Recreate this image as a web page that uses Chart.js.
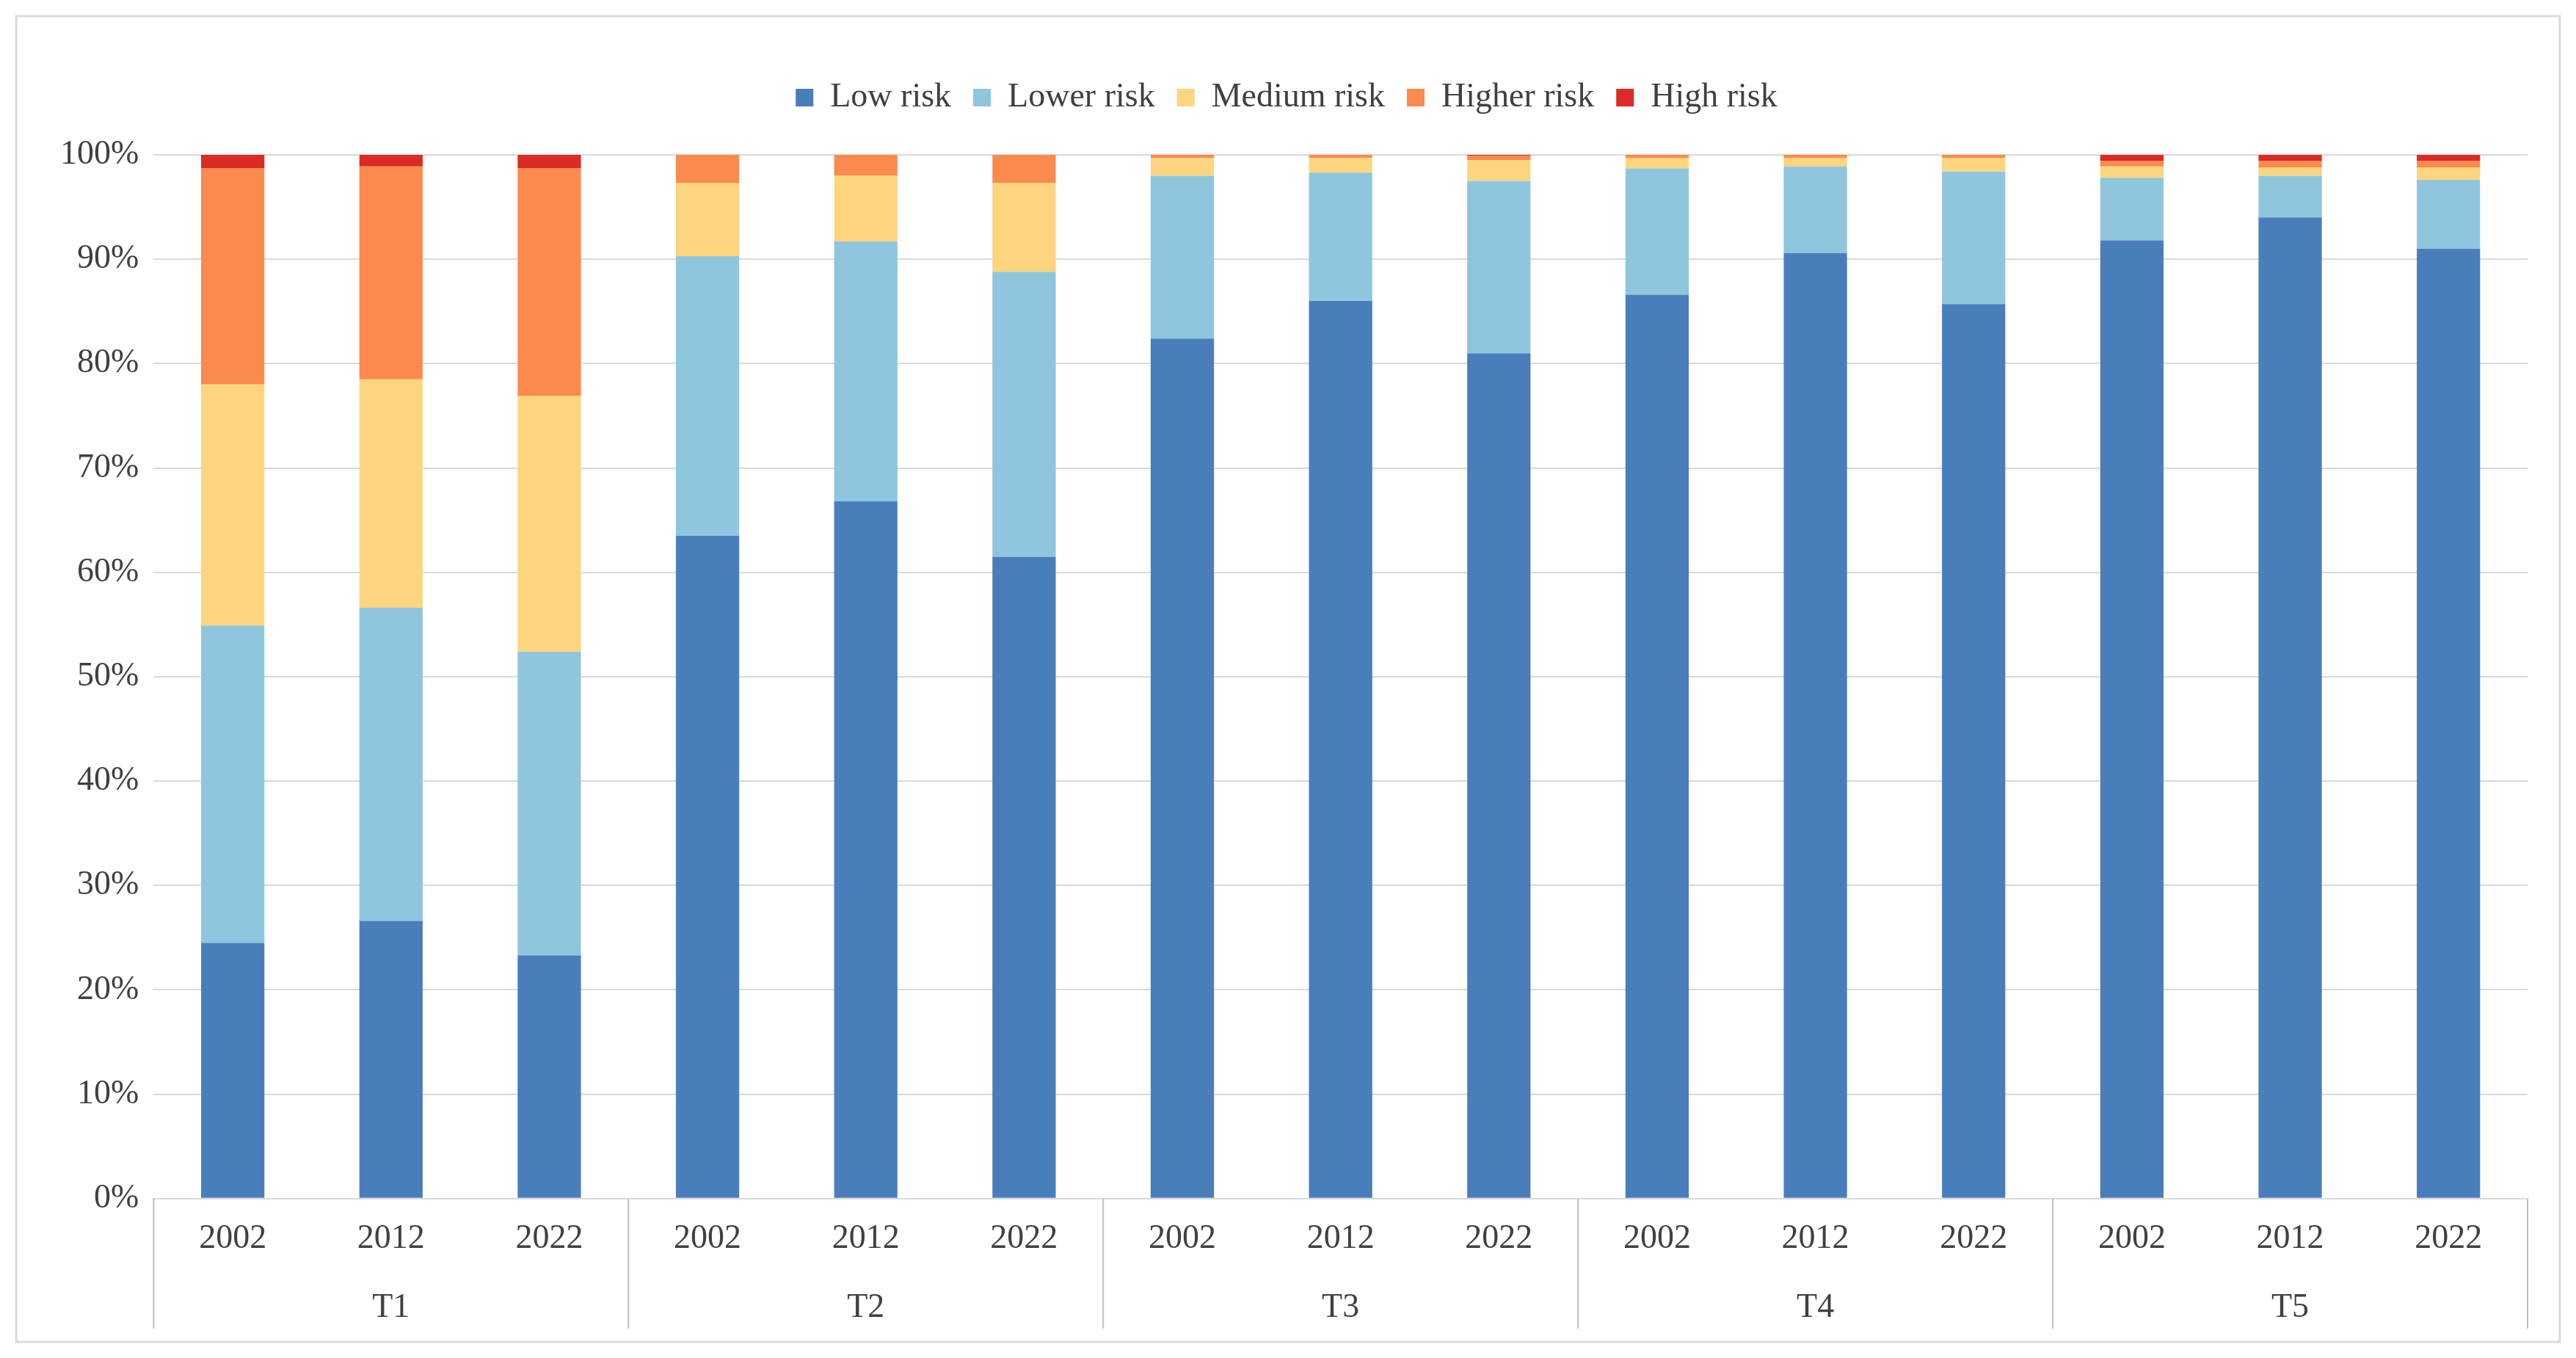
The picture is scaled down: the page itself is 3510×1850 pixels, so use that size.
<!DOCTYPE html>
<html>
<head>
<meta charset="utf-8">
<script src="https://cdn.jsdelivr.net/npm/chart.js@4"></script>
<style>
  html, body { margin: 0; padding: 0; background: #fff; }
  #wrap { width: 3510px; height: 1850px; }
</style>
</head>
<body>
<div id="wrap"><canvas id="riskChart" width="3510" height="1850"></canvas></div>
<script>
const groups = ['T1', 'T2', 'T3', 'T4', 'T5'];
const years = ['2002', '2012', '2022'];

// share of each risk level (%), in bar order T1-2002 ... T5-2022
const lowRisk    = [24.5, 26.6, 23.3, 63.5, 66.8, 61.5, 82.4, 86.0, 81.0, 86.6, 90.6, 85.7, 91.8, 94.0, 91.0];
const lowerRisk  = [30.4, 30.0, 29.1, 26.8, 24.9, 27.3, 15.6, 12.3, 16.5, 12.1, 8.3, 12.7, 6.0, 4.0, 6.6];
const mediumRisk = [23.1, 21.9, 24.5, 7.0, 6.3, 8.5, 1.7, 1.4, 2.0, 1.0, 0.8, 1.3, 1.1, 0.8, 1.2];
const higherRisk = [20.7, 20.4, 21.8, 2.7, 2.0, 2.7, 0.3, 0.3, 0.4, 0.3, 0.3, 0.3, 0.5, 0.6, 0.6];
const highRisk   = [1.3, 1.1, 1.3, 0, 0, 0, 0, 0, 0.1, 0, 0, 0, 0.6, 0.6, 0.6];

const labels = [];
groups.forEach(() => years.forEach(y => labels.push(y)));

const font = 'Liberation Serif, Times New Roman, serif';

// extra room under the legend
const legendGap = {
    id: 'legendGap',
    beforeInit(chart) {
        const fit = chart.legend.fit;
        chart.legend.fit = function () {
            fit.bind(chart.legend)();
            this.height += 45;
        };
    }
};

// frame round the whole chart, group separators and group names under the years
const groupAxis = {
    id: 'groupAxis',
    beforeDraw(chart) {
        const ctx = chart.ctx;
        ctx.save();
        ctx.strokeStyle = '#d9d9d9';
        ctx.lineWidth = 3;
        ctx.strokeRect(22, 22, 3466, 1806);
        ctx.restore();
    },
    afterDraw(chart) {
        const ctx = chart.ctx;
        const x = chart.scales.x;
        const area = chart.chartArea;
        const step = (area.right - area.left) / labels.length;
        ctx.save();
        ctx.strokeStyle = '#bfbfbf';
        ctx.lineWidth = 2;
        for (let g = 0; g <= groups.length; g++) {
            const px = area.left + g * 3 * step;
            ctx.beginPath();
            ctx.moveTo(px, area.bottom);
            ctx.lineTo(px, 1810);
            ctx.stroke();
        }
        ctx.fillStyle = '#404040';
        ctx.font = '46px ' + font;
        ctx.textAlign = 'center';
        ctx.textBaseline = 'middle';
        groups.forEach((name, g) => {
            ctx.fillText(name, x.getPixelForValue(g * 3 + 1), 1782);
        });
        ctx.restore();
    }
};

new Chart(document.getElementById('riskChart'), {
    type: 'bar',
    data: {
        labels: labels,
        datasets: [
            { label: 'Low risk', data: lowRisk, backgroundColor: '#4a7ebb' },
            { label: 'Lower risk', data: lowerRisk, backgroundColor: '#8fc6de' },
            { label: 'Medium risk', data: mediumRisk, backgroundColor: '#fdd57e' },
            { label: 'Higher risk', data: higherRisk, backgroundColor: '#fb8a4e' },
            { label: 'High risk', data: highRisk, backgroundColor: '#dc2a24' }
        ]
    },
    options: {
        responsive: false,
        animation: false,
        layout: { padding: { left: 62, right: 66, top: 80, bottom: 114 } },
        datasets: { bar: { barPercentage: 0.4, categoryPercentage: 1 } },
        plugins: {
            legend: {
                position: 'top',
                labels: {
                    font: { family: font, size: 46 },
                    color: '#404040',
                    boxWidth: 24,
                    boxHeight: 24,
                    padding: 30
                }
            },
            tooltip: { enabled: false }
        },
        scales: {
            x: {
                stacked: true,
                grid: { display: false },
                border: { color: '#d9d9d9', width: 2 },
                ticks: { font: { family: font, size: 46 }, color: '#404040', padding: 20 }
            },
            y: {
                stacked: true,
                min: 0,
                max: 100,
                grid: { color: '#d9d9d9', lineWidth: 2, drawTicks: false },
                border: { display: false },
                ticks: {
                    stepSize: 10,
                    padding: 20,
                    font: { family: font, size: 46 },
                    color: '#404040',
                    callback: v => v + '%'
                }
            }
        }
    },
    plugins: [legendGap, groupAxis]
});
</script>
</body>
</html>
